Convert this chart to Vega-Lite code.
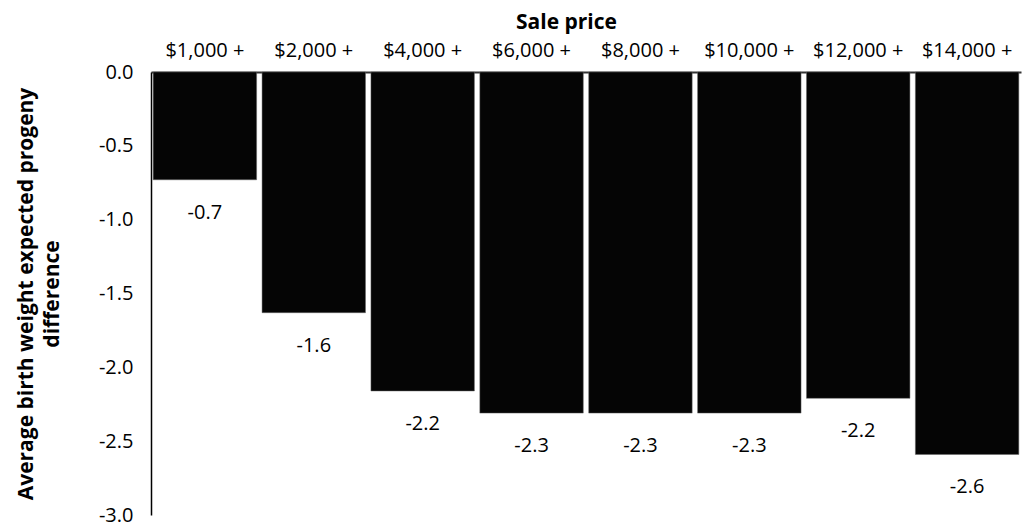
{
  "$schema": "https://vega.github.io/schema/vega-lite/v6.json",
  "width": 870,
  "height": 443,
  "autosize": {"type": "none"},
  "padding": {"left": 151, "top": 72, "right": 3, "bottom": 12},
  "background": "white",
  "config": {"view": {"stroke": null}, "font": "Open Sans"},
  "data": {"values": [
    {"price": "$1,000 +", "epd": -0.73, "label": "-0.7"},
    {"price": "$2,000 +", "epd": -1.63, "label": "-1.6"},
    {"price": "$4,000 +", "epd": -2.16, "label": "-2.2"},
    {"price": "$6,000 +", "epd": -2.31, "label": "-2.3"},
    {"price": "$8,000 +", "epd": -2.31, "label": "-2.3"},
    {"price": "$10,000 +", "epd": -2.31, "label": "-2.3"},
    {"price": "$12,000 +", "epd": -2.21, "label": "-2.2"},
    {"price": "$14,000 +", "epd": -2.59, "label": "-2.6"}
  ]},
  "encoding": {
    "x": {
      "field": "price", "type": "nominal", "sort": null,
      "scale": {"paddingInner": 0.05, "paddingOuter": 0.02},
      "axis": {
        "orient": "top", "title": "Sale price", "titleFontSize": 21, "titleFontWeight": "bold",
        "titleColor": "black", "titlePadding": 8, "titleX": 415,
        "labelAngle": 0, "labelFontSize": 20, "labelColor": "black", "labelPadding": 12,
        "ticks": false, "domainColor": "#333", "domainWidth": 2
      }
    },
    "y": {
      "field": "epd", "type": "quantitative",
      "scale": {"domain": [-3, 0], "nice": false},
      "axis": {
        "values": [0, -0.5, -1, -1.5, -2, -2.5, -3],
        "labelExpr": "replace(format(datum.value, '.1f'), '\u2212', '-')",
        "title": ["Average birth weight expected progeny", "difference"],
        "titleFontSize": 21, "titleFontWeight": "bold", "titleColor": "black", "titlePadding": 36,
        "titleLineHeight": 26,
        "labelFontSize": 20, "labelColor": "black", "labelPadding": 18,
        "ticks": false, "grid": false, "domainColor": "black", "domainWidth": 1.5
      }
    }
  },
  "layer": [
    {"mark": {"type": "bar", "color": "#050505", "stroke": "#666", "strokeWidth": 0.5}},
    {"mark": {"type": "text", "baseline": "top", "dy": 23, "fontSize": 20, "color": "black"},
     "encoding": {"text": {"field": "label"}}}
  ]
}
